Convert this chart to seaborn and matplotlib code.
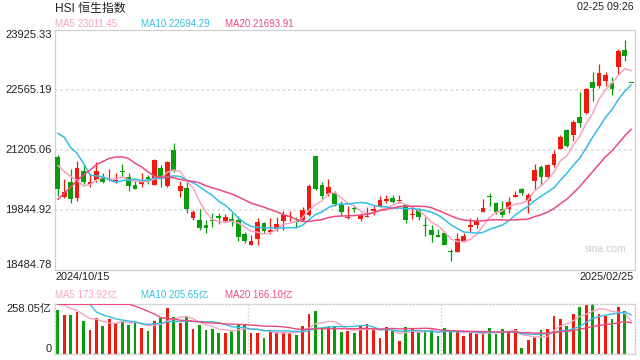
import matplotlib
matplotlib.use("Agg")
import matplotlib.pyplot as plt
import matplotlib.transforms as mtransforms
import numpy as np
import pandas as pd
import seaborn as sns

# closes of the 19 sessions before the window (only needed to seed the MAs)
pre_close = [17369, 17422, 17660, 18013, 18258, 18247, 19000, 19129, 19925, 20632,
             21134, 22443, 22114, 22737, 23100, 20926, 20637, 21252, 21094]
pre_vol = [150, 160, 170, 200, 230, 320, 380, 360, 420, 460,
           400, 352, 380, 400, 450, 586, 293, 280, 271]

opens = [21028, 20121, 20468, 20106, 20711, 20423, 20514, 20559, 20514, 20484,
         20711, 20575, 20393, 20423, 20575, 20407, 20786, 20378, 21194, 20257,
         20332, 19652, 19607, 19494, 19591, 19698, 19591, 19630, 19607, 19290,
         19047, 19183, 19532, 19335, 19410, 19577, 19668, 19577, 19607, 19713,
         21058, 20393, 20196, 20212, 19940, 19652, 19879, 19623, 19668, 19804,
         19908, 20044, 20106, 20031, 19940, 19713, 19849, 19500, 19380, 19260,
         19319, 18911, 18881, 19138, 19455, 19500, 19788, 20151, 19985, 19863,
         19849, 20121, 20316, 20044, 20484, 20815, 20588, 20860, 21223, 21647,
         21527, 21935, 22026, 22735, 22645, 22765, 22719, 23082, 23461, 22718]
closes = [20316, 20242, 20090, 20786, 20468, 20468, 20711, 20468, 20543, 20514,
          20695, 20378, 20316, 20468, 20543, 20967, 20543, 20922, 20724, 20378,
          19863, 19788, 19426, 19432, 19577, 19652, 19668, 19584, 19228, 19138,
          19138, 19562, 19364, 19380, 19516, 19727, 19682, 19562, 19834, 20378,
          20303, 20151, 20348, 19970, 19788, 19682, 19863, 19727, 19682, 19849,
          20060, 20076, 20015, 20044, 19607, 19743, 19682, 19471, 19274, 19228,
          19047, 18881, 19169, 19244, 19500, 19577, 19879, 20135, 19788, 19713,
          20015, 20180, 20226, 20180, 20740, 20588, 20847, 21103, 21482, 21284,
          21828, 21813, 22570, 22599, 22932, 22887, 22583, 23445, 23325, 22718]
highs = [21087, 20530, 20756, 20938, 20847, 20650, 20922, 20679, 20770, 20666,
         20876, 20666, 20484, 20666, 20620, 20996, 20847, 20951, 21346, 20498,
         20484, 19834, 19849, 19607, 19772, 19759, 19743, 19759, 19698, 19335,
         19274, 19652, 19562, 19652, 19682, 19818, 19818, 19668, 19908, 20423,
         21058, 20468, 20530, 20257, 20031, 19924, 19954, 19759, 19895, 19940,
         20151, 20167, 20180, 20180, 19954, 19908, 19879, 19668, 19487, 19396,
         19351, 18943, 19319, 19319, 19652, 19682, 20076, 20212, 20015, 20031,
         20121, 20271, 20332, 20212, 20876, 20847, 20876, 21194, 21527, 21677,
         21874, 22509, 22599, 22962, 23143, 22962, 22842, 23476, 23687, 22718]
lows = [20151, 20099, 19985, 20044, 20423, 20362, 20468, 20439, 20484, 20439,
        20575, 20271, 20303, 20348, 20423, 20393, 20362, 20362, 20695, 20135,
        19759, 19607, 19380, 19319, 19455, 19516, 19562, 19471, 19138, 19092,
        19047, 19047, 19319, 19290, 19364, 19380, 19591, 19455, 19577, 19698,
        20287, 20090, 20151, 19924, 19713, 19623, 19788, 19577, 19668, 19727,
        19908, 19985, 19985, 19985, 19532, 19636, 19607, 19244, 19108, 19215,
        19033, 18671, 18881, 19108, 19335, 19426, 19788, 19924, 19743, 19668,
        19759, 20121, 20167, 19759, 20287, 20393, 20559, 20802, 21223, 21269,
        21405, 21722, 22010, 22311, 22599, 22645, 22434, 22917, 23218, 22718]
# turnover, 亿
vols = [229, 203, 203, 220, 172, 125, 186, 146, 182, 160,
        172, 151, 163, 134, 120, 172, 189, 241, 191, 163,
        191, 131, 151, 125, 129, 112, 112, 120, 155, 155,
        112, 112, 86, 125, 115, 115, 108, 100, 146, 208,
        224, 134, 139, 139, 115, 120, 110, 148, 156, 125,
        84, 141, 120, 69, 141, 129, 115, 125, 125, 94,
        136, 117, 117, 94, 112, 105, 105, 136, 105, 131,
        115, 129, 33, 74, 91, 125, 131, 198, 182, 146,
        208, 243, 256, 258.05, 208, 198, 182, 246, 224, 3]

price_lim = (18484.78, 23925.33)
vol_max = 258.05
start_label, end_label = "2024/10/15", "2025/02/25"
stamp = "02-25 09:26"
ma_price_text = ["MA5 23011.45", "MA10 22694.29", "MA20 21693.91"]
ma_vol_text = ["MA5 173.92亿", "MA10 205.65亿", "MA20 166.10亿"]

sns.set_theme(style="white")
plt.rcParams['font.family'] = ['Liberation Sans', 'Noto Sans CJK SC']

RED = '#f2190e'
GREEN = '#0a9c0a'
MA_COLORS = ['#f7a3c0', '#34bde4', '#ec4a7c']
TXT = '#222222'
EDGE = '#d0d0d0'

o = np.array(opens, float)
c = np.array(closes, float)
h = np.array(highs, float)
l = np.array(lows, float)
v = np.array(vols, float)
n = len(c)
idx = np.arange(n)
cols = np.where(c > o, RED, GREEN)


def moving(pre, cur, w):
    s = pd.Series(np.r_[pre, cur]).rolling(w).mean().to_numpy()
    return s[len(pre):]


fig = plt.figure(figsize=(6.4, 3.6), dpi=100)
W, H = 640, 360
ax = fig.add_axes([54.5 / W, 1 - 269.5 / H, 580 / W, 240 / H])
axv = fig.add_axes([54.5 / W, 1 - 354.3 / H, 580 / W, 50 / H])

# --- price panel
yt = np.linspace(price_lim[0], price_lim[1], 5)
for y in yt[1:-1]:
    ax.axhline(y, color='#dddddd', lw=1.3, ls=(0, (1.4, 1.6)), zorder=0)

ax.vlines(idx, l, h, colors=cols, lw=0.9, zorder=2)
body = np.maximum(np.abs(c - o), 20)
ax.bar(idx, body, bottom=np.minimum(o, c), width=0.74, color=cols, lw=0, zorder=3)

for w, col in zip([5, 10, 20], MA_COLORS):
    sns.lineplot(x=idx, y=moving(pre_close, c, w), ax=ax, color=col, lw=1.1, zorder=4)

ax.set_xlim(-0.5, n - 0.5)
ax.set_ylim(*price_lim)
ax.set_xticks([])
ax.set_yticks([])
ax.set_xlabel("")
ax.set_ylabel("")
for s in ax.spines.values():
    s.set_color(EDGE)
    s.set_linewidth(0.9)

tr = mtransforms.blended_transform_factory(ax.transAxes, ax.transData)
for i, y in enumerate(yt):
    va = 'top' if i == 4 else ('bottom' if i == 0 else 'center')
    ax.text(-0.005, y, f"{y:.2f}", transform=tr, ha='right', va=va,
            fontsize=8, color=TXT)
ax.text(0.985, 0.085, "sina.com", transform=ax.transAxes, ha='right', va='center',
        fontsize=7.5, color='#cccccc')

# --- volume panel
axv.bar(idx, v, width=0.42, color=cols, lw=0, zorder=2)
for w, col in zip([5, 10, 20], MA_COLORS):
    sns.lineplot(x=idx, y=np.minimum(moving(pre_vol, v, w), vol_max), ax=axv,
                 color=col, lw=1.0, zorder=3)
axv.set_xlim(-0.5, n - 0.5)
axv.set_ylim(0, vol_max)
axv.set_xticks([])
axv.set_yticks([])
axv.set_xlabel("")
axv.set_ylabel("")
for k in (1, 2):
    axv.axvline(-0.5 + n * k / 3, color='#cccccc', lw=1.0, ls=(0, (1, 1.5)), zorder=0)
for s in axv.spines.values():
    s.set_color('#cccccc')
    s.set_linewidth(1.0)
    s.set_linestyle((0, (1, 1.5)))
trv = mtransforms.blended_transform_factory(axv.transAxes, axv.transData)
axv.text(-0.005, vol_max, f"{vol_max:.2f}亿", transform=trv, ha='right', va='top',
         fontsize=8, color=TXT)
axv.text(-0.005, 0, "0", transform=trv, ha='right', va='bottom', fontsize=8, color=TXT)

# --- header / footer texts
fig.text(55 / W, 1 - 8.5 / H, "HSI 恒生指数", ha='left', va='center', fontsize=8.6, color=TXT)
fig.text(634 / W, 1 - 7.5 / H, stamp, ha='right', va='center', fontsize=7.7, color=TXT)
for x0, t, col in zip([55, 140.7, 225.3], ma_price_text, MA_COLORS):
    fig.text(x0 / W, 1 - 24 / H, t, ha='left', va='center', fontsize=7, color=col)
for x0, t, col in zip([55, 140.7, 225.3], ma_vol_text, MA_COLORS):
    fig.text(x0 / W, 1 - 295 / H, t, ha='left', va='center', fontsize=7, color=col)
fig.text(55 / W, 1 - 277.3 / H, start_label, ha='left', va='center', fontsize=7.8, color=TXT)
fig.text(634 / W, 1 - 277.3 / H, end_label, ha='right', va='center', fontsize=7.8, color=TXT)

fig.savefig("out.png", dpi=100)
